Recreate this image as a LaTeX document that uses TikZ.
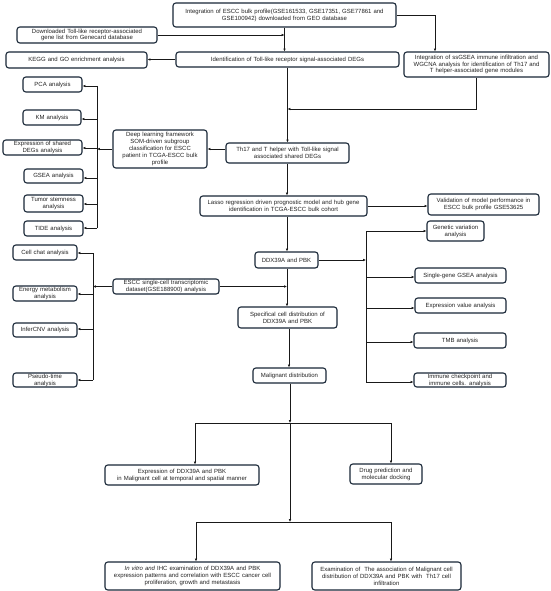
\documentclass[tikz,border=0pt]{standalone}
\usepackage{fontspec}
\setmainfont{Liberation Sans}
\usetikzlibrary{arrows.meta,calc}
\definecolor{bcol}{RGB}{24,38,54}
\definecolor{lcol}{RGB}{25,25,25}
\definecolor{txt}{RGB}{35,35,35}
\begin{document}
\begin{tikzpicture}[x=1pt,y=-1pt,
  bx/.style={draw=bcol, line width=1.1pt, rounded corners=2.8pt, align=center,
    inner sep=0pt, text=txt, font=\fontsize{6}{6.9}\selectfont, fill=white},
  arr/.style={draw=lcol, line width=0.85pt, -{Latex[length=2.8pt,width=2.5pt]}},
  ln/.style={draw=lcol, line width=0.85pt}]
\useasboundingbox (0,0) rectangle (550,591);
\newcommand{\bxn}[6]{\node[bx, minimum width=#4pt, minimum height=#5pt, text width=#4pt-4pt] (#1) at (#2,#3) {#6};}
% top section
\bxn{top}{284.5}{15}{223}{24}{Integration of ESCC bulk profile(GSE161533, GSE17351, GSE77861 and\\GSE100942) downloaded from GEO database}
\bxn{gene}{87}{35}{140}{16}{Downloaded Toll-like receptor-associated\\gene list from Genecard database}
\bxn{kegg}{76.5}{60}{141}{16}{KEGG and GO enrichment analysis}
\bxn{ident}{287.5}{59.5}{223}{15}{Identification of Toll-like receptor signal-associated DEGs}
\bxn{ssgsea}{476.5}{64.5}{145}{25}{Integration of ssGSEA immune infiltration and\\WGCNA analysis for identification of Th17 and\\T helper-associated gene modules}
\bxn{th17}{287.5}{153}{123}{20}{Th17 and T helper with Toll-like signal\\associated shared DEGs}
\bxn{deep}{160}{149}{94}{38}{Deep learning framework\\SOM-driven subgroup\\classification for ESCC\\patient in TCGA-ESCC bulk\\profile}
% left group 1
\bxn{pca}{52.5}{84.5}{59}{15}{PCA analysis}
\bxn{km}{52}{117.5}{58}{15}{KM analysis}
\bxn{exsh}{42.5}{147.5}{79}{15}{Expression of shared\\DEGs analysis}
\bxn{gsea}{53.5}{176}{59}{14}{GSEA analysis}
\bxn{stem}{53.5}{203.5}{59}{17}{Tumor stemness\\analysis}
\bxn{tide}{53.5}{228.5}{59}{15}{TIDE analysis}
% left group 2
\bxn{cell}{45}{252.5}{64}{15}{Cell chat analysis}
\bxn{energy}{45}{293.5}{64}{15}{Energy metabolism\\analysis}
\bxn{infer}{45}{330}{64}{14}{InferCNV analysis}
\bxn{pseudo}{45}{380}{64}{14}{Pseudo-time\\analysis}
\bxn{sc}{166}{286.5}{106}{15}{ESCC single-cell transcriptomic\\dataset(GSE188900) analysis}
% middle
\bxn{lasso}{283.5}{206}{167}{20}{Lasso regression driven prognostic model and hub gene\\identification in TCGA-ESCC bulk cohort}
\bxn{valid}{483.5}{204.5}{111}{21}{Validation of model performance in\\ESCC bulk profile GSE53625}
\bxn{ddx}{286.5}{260}{63}{16}{DDX39A and PBK}
\bxn{spec}{287.5}{317.5}{99}{21}{Specifical cell distribution of\\DDX39A and PBK}
\bxn{malig}{289.5}{375.5}{73}{15}{Malignant distribution}
% right group
\bxn{genvar}{455.5}{231}{57}{20}{Genetic variation\\analysis}
\bxn{sgsea}{460.5}{275.5}{91}{15}{Single-gene GSEA analysis}
\bxn{exval}{460.5}{305.5}{91}{15}{Expression value analysis}
\bxn{tmb}{460}{340.5}{92}{15}{TMB analysis}
\bxn{immune}{460}{380}{92}{14}{Immune checkpoint and\\immune cells. analysis}
% bottom
\bxn{extemp}{182}{475}{154}{20}{Expression of DDX39A and PBK\\in Malignant cell at temporal and spatial manner}
\bxn{drug}{386}{474}{72}{20}{Drug prediction and\\molecular docking}
\bxn{invitro}{192.5}{576}{175}{28}{\textit{In vitro and} IHC examination of DDX39A and PBK\\expression patterns and correlation with ESCC cancer cell\\proliferation, growth and metastasis}
\bxn{exam}{386.5}{576}{149}{28}{Examination of\ \ The association of Malignant cell\\distribution of DDX39A and PBK with\ \ Th17 cell\\infiltration}
% coordinates
\coordinate (b1) at (97,150);
\coordinate (b2) at (93,287);
\coordinate (b3) at (366,260);
\coordinate (v1) at (287,0);
\coordinate (j1) at (287.5,109);
\coordinate (j2) at (290,423);
\coordinate (j3) at (290,522);
% connectors top
\draw[arr] (top.south) -- (top.south |- ident.north);
\draw[arr] (gene.east) -- (gene.east -| top.south);
\draw[arr] (top.east) -| ([xshift=-41.5pt]ssgsea.north);
\draw[arr] (ident.west) -- (ident.west -| kegg.east);
\draw[arr] (ident.south) -- (ident.south |- th17.north);
\draw[arr] (ssgsea.south) |- (j1);
\draw[arr] (deep.east -| th17.west) -- (deep.east);
% bus 1
\draw[arr] (deep.west) -- (deep.west -| b1);
\draw[ln] (b1 |- 0,86) -- (b1 |- 0,228);
\foreach \n/\yy in {pca/86, km/119, exsh/148, gsea/178, stem/204, tide/228}
  \draw[arr] (b1 |- 0,\yy) -- (\n.east |- 0,\yy);
% bus 2
\draw[arr] (sc.west) -- (sc.west -| b2);
\draw[ln] (b2 |- 0,253) -- (b2 |- 0,380);
\foreach \n/\yy in {cell/253, energy/294, infer/329, pseudo/380}
  \draw[arr] (b2 |- 0,\yy) -- (\n.east |- 0,\yy);
% middle chain
\draw[arr] (th17.south -| v1) -- (v1 |- lasso.north);
\draw[arr] (lasso.east) -- (lasso.east -| valid.west);
\draw[arr] (v1 |- lasso.south) -- (v1 |- ddx.north);
\draw[arr] (v1 |- ddx.south) -- (v1 |- spec.north);
\draw[arr] (sc.east) -- (sc.east -| v1);
\draw[arr] ([xshift=1.5pt]spec.south) -- ([xshift=-0.5pt]malig.north);
% bus 3
\draw[arr] (ddx.east) -- (ddx.east -| b3);
\draw[ln] (b3 |- 0,231) -- (b3 |- 0,382);
\foreach \n/\yy in {genvar/231, sgsea/277, exval/308, tmb/342, immune/382}
  \draw[arr] (b3 |- 0,\yy) -- (\n.west |- 0,\yy);
% bottom tree
\draw[arr] ([xshift=0.5pt]malig.south) -- (j2);
\draw[arr] (j2) -- (j3);
\draw[arr] (j2) -| ([xshift=13pt]extemp.north);
\draw[arr] (j2) -| ([xshift=5pt]drug.north);
\draw[arr] (j3) -| ([xshift=3.5pt]invitro.north);
\draw[arr] (j3) -| ([xshift=4.5pt]exam.north);
\end{tikzpicture}
\end{document}
